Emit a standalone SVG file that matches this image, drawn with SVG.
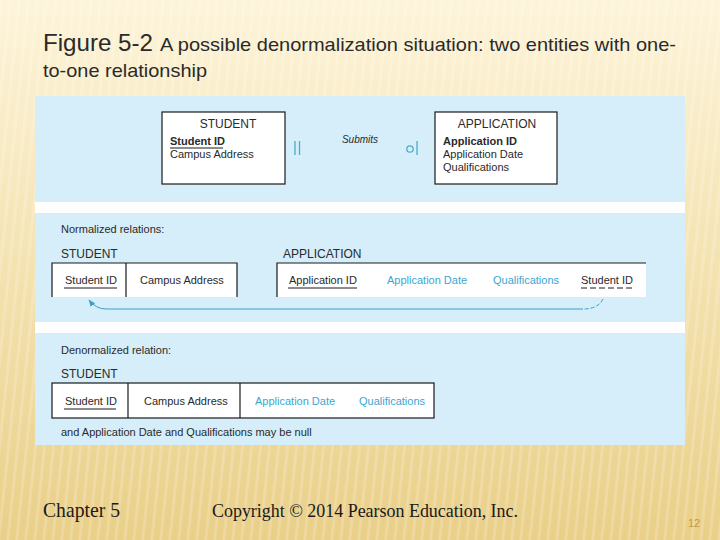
<svg xmlns="http://www.w3.org/2000/svg" width="720" height="540" viewBox="0 0 720 540">
  <defs>
    <linearGradient id="bg" x1="0" y1="0" x2="0" y2="1">
      <stop offset="0" stop-color="#fdf4da"/>
      <stop offset="0.5" stop-color="#f4e2b0"/>
      <stop offset="1" stop-color="#e9cf88"/>
    </linearGradient>
    <pattern id="stripes" width="9" height="540" patternUnits="userSpaceOnUse" patternTransform="skewX(-6)">
      <rect x="0" y="0" width="3" height="540" fill="#ffffff" opacity="0.18"/>
    </pattern>
    <marker id="arrow" viewBox="0 0 10 10" refX="9" refY="5" markerWidth="7" markerHeight="7" orient="auto">
      <path d="M0,1 L10,5 L0,9 Z" fill="#3d9fc4"/>
    </marker>
    <style>
      .t { font-family: "Liberation Sans", Arial, sans-serif; fill: #2a2a2a; }
      .s11 { font-size: 11px; }
      .s12 { font-size: 12px; }
      .b { font-weight: bold; }
      .blue { fill: #3aa6d2; }
      .box { fill: #ffffff; stroke: #1a1a1a; stroke-width: 1.2; }
      .cell { fill: #ffffff; }
      .ln { stroke: #1a1a1a; stroke-width: 1.2; fill: none; }
      .ul { stroke: #1a1a1a; stroke-width: 1; }
      .sym { stroke: #4aaec8; stroke-width: 1.3; fill: none; }
      .conn { stroke: #3d9fc4; stroke-width: 1; fill: none; }
      .serif { font-family: "Liberation Serif", "Times New Roman", serif; fill: #1a1a1a; }
    </style>
  </defs>

  <rect x="0" y="0" width="720" height="540" fill="url(#bg)"/>
  <rect x="0" y="0" width="720" height="540" fill="url(#stripes)"/>

  <!-- Title -->
  <text class="t" x="43" y="51" style="font-size:24px" textLength="110" lengthAdjust="spacingAndGlyphs" fill="#111">Figure 5-2</text>
  <text class="t" x="160" y="51" style="font-size:19px" textLength="516" lengthAdjust="spacingAndGlyphs" fill="#111">A possible denormalization situation: two entities with one-</text>
  <text class="t" x="43" y="77" style="font-size:19px" textLength="164" lengthAdjust="spacingAndGlyphs" fill="#111">to-one relationship</text>

  <!-- Panel -->
  <rect x="35" y="96" width="650" height="349" fill="#d5eef9"/>
  <rect x="35" y="202" width="650" height="11" fill="#ffffff"/>
  <rect x="35" y="322" width="650" height="11" fill="#ffffff"/>

  <!-- E-R section -->
  <g id="er-student">
    <rect class="box" x="162" y="112" width="123" height="72"/>
    <text class="t s12" x="228" y="128" text-anchor="middle">STUDENT</text>
    <text class="t s11 b" x="170" y="145">Student ID</text>
    <line class="ul" x1="170" y1="148" x2="223" y2="148"/>
    <text class="t s11" x="170" y="158">Campus Address</text>
  </g>
  <g id="er-application">
    <rect class="box" x="435" y="112" width="122" height="72"/>
    <text class="t s12" x="497" y="128" text-anchor="middle">APPLICATION</text>
    <text class="t s11 b" x="443" y="145">Application ID</text>
    <text class="t s11" x="443" y="158">Application Date</text>
    <text class="t s11" x="443" y="171">Qualifications</text>
  </g>
  <g id="er-relationship">
    <line class="sym" x1="295" y1="141" x2="295" y2="155"/>
    <line class="sym" x1="299.5" y1="141" x2="299.5" y2="155"/>
    <text class="t" x="360" y="143" text-anchor="middle" style="font-size:10px;font-style:italic">Submits</text>
    <circle class="sym" cx="410" cy="149" r="3.2"/>
    <line class="sym" x1="417" y1="141" x2="417" y2="155"/>
  </g>

  <!-- Normalized relations -->
  <text class="t s11" x="61" y="233">Normalized relations:</text>
  <g id="norm-student">
    <text class="t s12" x="61" y="258">STUDENT</text>
    <rect class="cell" x="52" y="263" width="185" height="34"/>
    <path class="ln" d="M52,297 V263 H237 V297 M126,263 V297"/>
    <text class="t s11" x="65" y="284">Student ID</text>
    <line class="ul" x1="64" y1="288" x2="117" y2="288"/>
    <text class="t s11" x="140" y="284">Campus Address</text>
  </g>
  <g id="norm-application">
    <text class="t s12" x="283" y="258">APPLICATION</text>
    <rect class="cell" x="277" y="263" width="369" height="34"/>
    <path class="ln" d="M277,297 V263 H646"/>
    <text class="t s11" x="289" y="284">Application ID</text>
    <line class="ul" x1="288" y1="288" x2="357" y2="288"/>
    <text class="t s11 blue" x="387" y="284">Application Date</text>
    <text class="t s11 blue" x="493" y="284">Qualifications</text>
    <text class="t s11" x="581" y="284">Student ID</text>
    <line class="ul" x1="581" y1="288" x2="632" y2="288" stroke-dasharray="6,3"/>
  </g>
  <g id="connectors">
    <path class="conn" d="M603,299 Q598,309 583,309" stroke-dasharray="4,2"/>
    <path class="conn" d="M583,309 H106 Q96,309 89,300" marker-end="url(#arrow)"/>
  </g>

  <!-- Denormalized relation -->
  <text class="t s11" x="61" y="354">Denormalized relation:</text>
  <g id="denorm-student">
    <text class="t s12" x="61" y="378">STUDENT</text>
    <rect class="box" x="52" y="383" width="382" height="35"/>
    <path class="ln" d="M128,383 V418 M240,383 V418"/>
    <text class="t s11" x="65" y="405">Student ID</text>
    <line class="ul" x1="64" y1="409" x2="116" y2="409"/>
    <text class="t s11" x="144" y="405">Campus Address</text>
    <text class="t s11 blue" x="255" y="405">Application Date</text>
    <text class="t s11 blue" x="359" y="405">Qualifications</text>
  </g>
  <text class="t s11" x="61" y="436">and Application Date and Qualifications may be null</text>

  <!-- Footer -->
  <text class="serif" x="43" y="517" style="font-size:21px" textLength="77" lengthAdjust="spacingAndGlyphs">Chapter 5</text>
  <text class="serif" x="212" y="517" style="font-size:19px" textLength="306" lengthAdjust="spacingAndGlyphs">Copyright © 2014 Pearson Education, Inc.</text>
  <text class="t" x="688" y="527" style="font-size:11px;fill:#c49a4a">12</text>
</svg>
